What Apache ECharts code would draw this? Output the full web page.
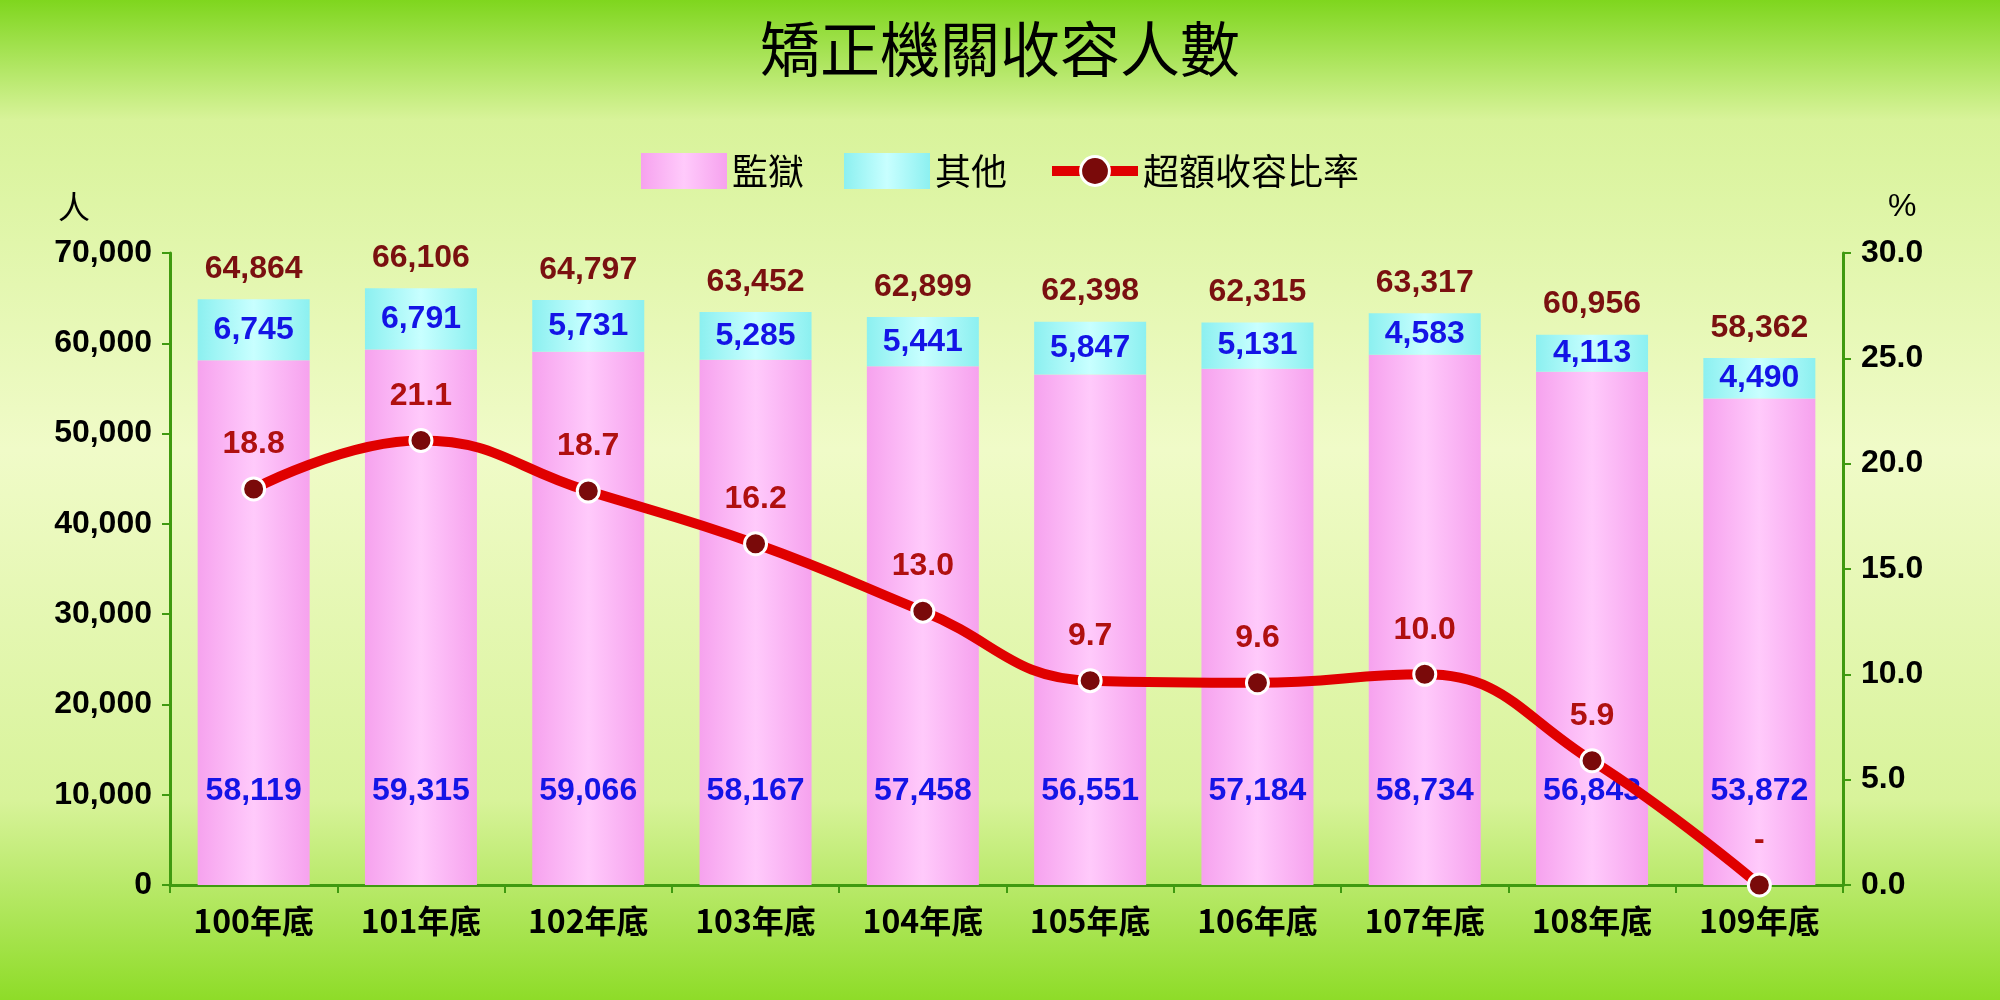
<!DOCTYPE html>
<html>
<head>
<meta charset="utf-8">
<script src="https://cdn.jsdelivr.net/npm/echarts@6/dist/echarts.min.js"></script>
<style>
html, body { margin: 0; padding: 0; }
#chart {
    width: 2000px; height: 1000px;
    background: linear-gradient(to bottom, #7fd61e 0%, #d8f39a 12%, #f0fbc8 45%, #d8f39a 80%, #8edc28 100%);
}
</style>
</head>
<body>
<div id="chart"></div>
<script>
var categories = ['100年底', '101年底', '102年底', '103年底', '104年底', '105年底', '106年底', '107年底', '108年底', '109年底'];
var prison = [58119, 59315, 59066, 58167, 57458, 56551, 57184, 58734, 56843, 53872];
var other = [6745, 6791, 5731, 5285, 5441, 5847, 5131, 4583, 4113, 4490];
var total = [64864, 66106, 64797, 63452, 62899, 62398, 62315, 63317, 60956, 58362];
var overRate = [18.8, 21.1, 18.7, 16.2, 13.0, 9.7, 9.6, 10.0, 5.9, 0];

var fmt = function (v) { return v.toLocaleString('en-US'); };
var font = 'Liberation Sans, Arial, Noto Sans CJK TC, sans-serif';

var chart = echarts.init(document.getElementById('chart'));
chart.setOption({
    textStyle: { fontFamily: font },
    title: {
        text: '矯正機關收容人數',
        left: 'center',
        top: 14,
        textStyle: { fontSize: 60, fontWeight: 'normal', color: '#000', fontFamily: 'Noto Sans CJK TC' }
    },
    legend: {
        top: 148,
        left: 'center',
        itemWidth: 86,
        itemHeight: 36,
        itemGap: 40,
        textStyle: { fontSize: 36, color: '#000', fontFamily: 'Noto Sans CJK TC' },
        data: [
            { name: '監獄', icon: 'rect' },
            { name: '其他', icon: 'rect' },
            { name: '超額收容比率', itemStyle: { borderWidth: 3 }, lineStyle: { width: 10 } }
        ]
    },
    grid: { left: 170, right: 157, top: 253, bottom: 115 },
    xAxis: {
        type: 'category',
        data: categories,
        axisLine: { lineStyle: { color: '#3f9a10', width: 3 } },
        axisTick: { show: true, length: 8, lineStyle: { color: '#3f9a10', width: 2 } },
        axisLabel: {
            fontSize: 32, fontWeight: 'bold', color: '#000', margin: 20,
            fontFamily: 'Noto Sans CJK TC'
        }
    },
    yAxis: [{
        type: 'value',
        min: 0, max: 70000, interval: 10000,
        name: '人',
        nameLocation: 'end',
        nameGap: 30,
        nameTextStyle: { fontSize: 32, color: '#000', align: 'right', padding: [0, 80, 0, 0], fontFamily: 'Noto Sans CJK TC' },
        axisLine: { show: true, lineStyle: { color: '#3f9a10', width: 3 } },
        axisTick: { show: true, length: 8, lineStyle: { color: '#3f9a10', width: 2 } },
        splitLine: { show: false },
        axisLabel: { fontSize: 32, fontWeight: 'bold', color: '#000', margin: 18, formatter: fmt }
    }, {
        type: 'value',
        min: 0, max: 30, interval: 5,
        name: '%',
        nameGap: 30,
        nameTextStyle: { fontSize: 32, color: '#000', align: 'left', padding: [0, 0, 0, 45] },
        axisLine: { show: true, lineStyle: { color: '#3f9a10', width: 3 } },
        axisTick: { show: true, length: 8, lineStyle: { color: '#3f9a10', width: 2 } },
        splitLine: { show: false },
        axisLabel: { fontSize: 32, fontWeight: 'bold', color: '#000', margin: 18, formatter: function (v) { return v.toFixed(1); } }
    }],
    series: [{
        name: '監獄',
        type: 'bar',
        stack: 'total',
        barWidth: 112,
        data: prison,
        itemStyle: {
            color: new echarts.graphic.LinearGradient(0, 0, 1, 0, [
                { offset: 0, color: '#f6a2ee' },
                { offset: 0.5, color: '#ffcafb' },
                { offset: 1, color: '#f6a2ee' }
            ])
        },
        label: {
            show: true, position: 'insideBottom', distance: 78,
            fontSize: 32, fontWeight: 'bold', color: '#1414e6', formatter: function (p) { return fmt(p.value); }
        }
    }, {
        name: '其他',
        type: 'bar',
        stack: 'total',
        data: other,
        itemStyle: {
            color: new echarts.graphic.LinearGradient(0, 0, 1, 0, [
                { offset: 0, color: '#8cf0f0' },
                { offset: 0.5, color: '#c8ffff' },
                { offset: 1, color: '#8cf0f0' }
            ])
        },
        label: {
            show: true, position: 'inside',
            fontSize: 32, fontWeight: 'bold', color: '#1414e6', formatter: function (p) { return fmt(p.value); }
        }
    }, {
        name: '總計',
        type: 'bar',
        stack: 'total',
        data: total.map(function () { return 0; }),
        itemStyle: { color: 'transparent' },
        label: {
            show: true, position: 'top', distance: 14,
            fontSize: 32, fontWeight: 'bold', color: '#7a1010',
            formatter: function (p) { return fmt(total[p.dataIndex]); }
        }
    }, {
        name: '超額收容比率',
        type: 'line',
        yAxisIndex: 1,
        smooth: 0.45,
        data: overRate,
        symbol: 'circle',
        symbolSize: 22,
        z: 10,
        lineStyle: { color: '#e00000', width: 10 },
        itemStyle: { color: '#7a0a0a', borderColor: '#fff', borderWidth: 3 },
        label: {
            show: true, position: 'top', distance: 16,
            fontSize: 32, fontWeight: 'bold', color: '#b01010',
            formatter: function (p) { return p.value === 0 ? '-' : p.value.toFixed(1); }
        }
    }]
});
</script>
</body>
</html>
